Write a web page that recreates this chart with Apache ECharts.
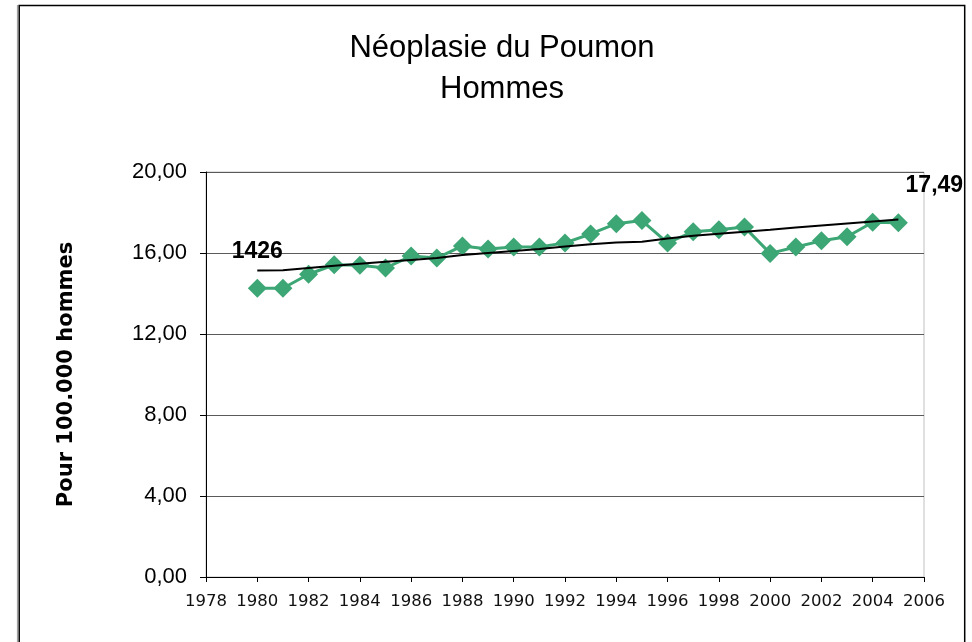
<!DOCTYPE html>
<html>
<head>
<meta charset="utf-8">
<script src="https://cdn.jsdelivr.net/npm/echarts@6/dist/echarts.min.js"></script>
<style>
html,body{margin:0;padding:0;background:#fff;}
#chart{width:972px;height:642px;}
</style>
</head>
<body>
<div id="chart"></div>
<script>
const titleText = "Néoplasie du Poumon\nHommes";
const yAxisName = "Pour 100.000 hommes";
const years = [1980,1981,1982,1983,1984,1985,1986,1987,1988,1989,1990,1991,1992,1993,1994,1995,1996,1997,1998,1999,2000,2001,2002,2003,2004,2005];
const rates = [14.26,14.26,14.95,15.42,15.40,15.26,15.85,15.75,16.35,16.20,16.30,16.30,16.50,16.94,17.45,17.60,16.50,17.05,17.15,17.28,15.98,16.30,16.60,16.80,17.52,17.49];
const trend = [15.13,15.15,15.26,15.37,15.47,15.57,15.66,15.75,15.90,16.00,16.10,16.20,16.32,16.43,16.52,16.55,16.72,16.85,16.95,17.05,17.15,17.26,17.36,17.46,17.56,17.66];
const firstLabel = "1426";
const lastLabel = "17,49";
const xMin = 1978, xMax = 2006, xStep = 2;
const yMin = 0, yMax = 20, yStep = 4;

const green = "#3da675";
const chart = echarts.init(document.getElementById('chart'));

const rateData = years.map((y, i) => {
  const item = { value: [y, rates[i]] };
  if (i === 0) {
    item.label = { show: true, formatter: firstLabel, position: 'top', distance: 16 };
  } else if (i === years.length - 1) {
    item.label = { show: true, formatter: lastLabel, position: 'top', distance: 16, offset: [36, 0] };
  }
  return item;
});
const trendData = years.map((y, i) => [y, trend[i]]);

chart.setOption({
  backgroundColor: '#ffffff',
  animation: false,
  title: {
    text: titleText,
    left: 497,
    textAlign: 'center',
    top: 23,
    textStyle: {
      fontFamily: 'Liberation Sans',
      fontSize: 31,
      fontWeight: 'normal',
      color: '#000',
      lineHeight: 41
    }
  },
  graphic: [
    { type: 'line', shape: { x1: 17.5, y1: 5, x2: 17.5, y2: 660 }, style: { stroke: '#a0a0a0', lineWidth: 1.2 }, silent: true },
    { type: 'rect', shape: { x: 19.2, y: 5.5, width: 945.5, height: 700 }, style: { fill: 'none', stroke: '#000', lineWidth: 1.5 }, silent: true }
  ],
  grid: { left: 206, right: 48, top: 172, bottom: 65, show: true, borderColor: '#c0c0c0', borderWidth: 1 },
  xAxis: {
    type: 'value', min: xMin, max: xMax, interval: xStep,
    axisLine: { show: true, onZero: false, lineStyle: { color: '#000', width: 1 } },
    axisTick: { show: true, length: 5, lineStyle: { color: '#000' } },
    splitLine: { show: false },
    axisLabel: {
      margin: 16, color: '#111', fontFamily: 'DejaVu Sans', fontSize: 16.5,
      formatter: v => String(v)
    }
  },
  yAxis: {
    type: 'value', min: yMin, max: yMax, interval: yStep,
    name: yAxisName, nameLocation: 'middle', nameGap: 129, nameRotate: 90,
    nameTextStyle: { fontFamily: 'DejaVu Sans', fontWeight: 'bold', fontSize: 21, color: '#000' },
    axisLine: { show: true, lineStyle: { color: '#000', width: 1 } },
    axisTick: { show: true, length: 6, lineStyle: { color: '#000' } },
    splitLine: { show: true, lineStyle: { color: '#5a5a5a', width: 1 } },
    axisLabel: {
      margin: 19, color: '#000', fontFamily: 'Liberation Sans', fontSize: 22,
      formatter: v => v.toFixed(2).replace('.', ',')
    }
  },
  series: [
    {
      type: 'line', data: rateData, symbol: 'diamond', symbolSize: 19,
      itemStyle: { color: green }, lineStyle: { color: green, width: 3 },
      label: { show: false, color: '#000', fontFamily: 'Liberation Sans', fontWeight: 'bold', fontSize: 23 },
      z: 2
    },
    {
      type: 'line', data: trendData, symbol: 'none',
      lineStyle: { color: '#000', width: 2 }, z: 3
    }
  ]
});
</script>
</body>
</html>
